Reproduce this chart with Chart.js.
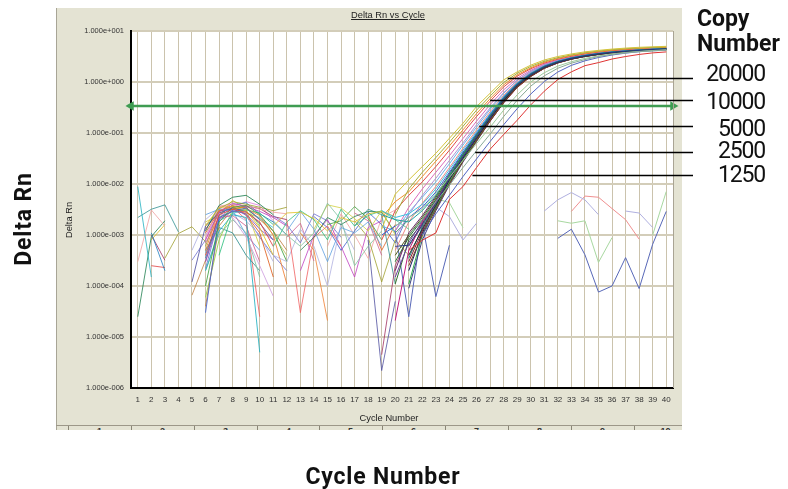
<!DOCTYPE html>
<html><head><meta charset="utf-8">
<script src="https://cdn.jsdelivr.net/npm/chart.js@4.4.1/dist/chart.umd.min.js"></script>
<style>
html,body{margin:0;padding:0;background:#fff;}
#wrap{position:relative;width:788px;height:489px;overflow:hidden;font-family:"Liberation Sans",Arial,sans-serif;}
#panel{position:absolute;left:56px;top:8px;width:626px;height:422px;background:#e4e3d3;border-left:1px solid #a8a596;box-sizing:border-box;}
#tbl{position:absolute;left:56px;top:425px;width:626px;height:5px;overflow:hidden;border-top:1px solid #9c9788;box-sizing:border-box;}
#tbl .sep{position:absolute;top:0;width:1px;height:6px;background:#8a8676;}
#tbl .num{position:absolute;top:1px;width:63px;text-align:center;font:bold 9px "Liberation Sans",Arial,sans-serif;color:#333;line-height:1;}
canvas{position:absolute;left:0;top:0;}
.t{position:absolute;white-space:nowrap;line-height:1;color:#222;}
.big{font-family:Roboto,"Noto Sans",sans-serif;color:#111;}
</style></head><body>
<div id="wrap">
  <div id="panel"></div>
  <div id="tbl"></div>
  <canvas id="c" width="788" height="489"></canvas>
  <div class="t" style="left:288px;top:11px;width:200px;text-align:center;font-size:9.3px;text-decoration:underline;">Delta Rn vs Cycle</div>
  <div class="t" style="left:289px;top:414px;width:200px;text-align:center;font-size:9.3px;">Cycle Number</div>
  <div class="t" style="left:70px;top:220px;font-size:9.3px;transform:translate(-50%,-50%) rotate(-90deg);">Delta Rn</div>
  <div class="t big" style="left:23px;top:219px;font-size:23px;font-weight:700;letter-spacing:0.8px;transform:translate(-50%,-50%) rotate(-90deg);">Delta Rn</div>
  <div class="t big" style="left:233px;top:465px;width:300px;text-align:center;font-size:23px;font-weight:700;letter-spacing:0.8px;">Cycle Number</div>
  <div class="t big" style="left:697px;top:7px;font-size:23px;font-weight:700;">Copy</div>
  <div class="t big" style="left:697px;top:32px;font-size:23px;font-weight:700;">Number</div>
  <div id="copyLabels"></div>
</div>
<script>
// ---------- data ----------
const cycles = [1,2,3,4,5,6,7,8,9,10,11,12,13,14,15,16,17,18,19,20,21,22,23,24,25,26,27,28,29,30,31,32,33,34,35,36,37,38,39,40];
const yTickValues = [1e-6,1e-5,1e-4,1e-3,1e-2,1e-1,1,10];
const yTickLabels = ['1.000e-006','1.000e-005','1.000e-004','1.000e-003','1.000e-002','1.000e-001','1.000e+000','1.000e+001'];
const threshold = 0.34;

// amplifying wells, cycles 19..40
const ampStart = 19;
const ampEarly = [
  [1.3e-3,6.3e-3,1.2e-2,2.2e-2,4.0e-2,7.9e-2,0.155,0.33,0.6,1.1,1.58,2.14,2.7,3.16,3.55,3.9,4.17,4.42,4.62,4.79,4.9,5.0],
  [null,2.5e-3,8e-3,1.7e-2,3.3e-2,6.6e-2,0.135,0.28,0.53,0.98,1.48,2.02,2.55,3.0,3.4,3.75,4.05,4.3,4.5,4.65,4.78,4.88],
  [2.2e-3,4.5e-3,7e-3,1.4e-2,2.8e-2,5.6e-2,0.115,0.24,0.47,0.88,1.38,1.9,2.45,2.9,3.3,3.65,3.95,4.2,4.4,4.55,4.68,4.78],
  [8e-4,3e-3,6e-3,1.1e-2,2.2e-2,4.6e-2,0.1,0.21,0.42,0.8,1.3,1.82,2.35,2.8,3.2,3.55,3.85,4.1,4.3,4.45,4.58,4.68],
  [null,1.2e-3,3.5e-3,8e-3,1.7e-2,3.6e-2,7.8e-2,0.17,0.36,0.7,1.18,1.7,2.25,2.7,3.1,3.45,3.75,4.0,4.2,4.35,4.48,4.58],
  [null,9e-4,2.5e-3,6e-3,1.3e-2,2.9e-2,6.4e-2,0.145,0.31,0.62,1.08,1.6,2.15,2.62,3.02,3.38,3.68,3.92,4.12,4.28,4.42,4.52],
  [1.5e-3,1.2e-3,2.8e-3,5.5e-3,1.1e-2,2.5e-2,5.8e-2,0.13,0.29,0.6,1.08,1.62,2.2,2.68,3.08,3.42,3.72,3.96,4.15,4.32,4.46,4.6],
  [null,5e-4,1.8e-3,4.2e-3,9e-3,2.1e-2,5e-2,0.115,0.26,0.55,1.0,1.55,2.12,2.6,3.02,3.37,3.67,3.91,4.1,4.28,4.42,4.55]
];
const ampMain = [
  [null,6e-4,6.3e-4,1.6e-3,4.2e-3,1.3e-2,3.4e-2,8.3e-2,0.2,0.45,0.87,1.38,1.95,2.45,2.88,3.24,3.55,3.8,3.98,4.17,4.31,4.47],
  [null,null,4e-4,1.3e-3,3.8e-3,1.2e-2,3.2e-2,7.8e-2,0.19,0.43,0.84,1.35,1.92,2.42,2.85,3.2,3.5,3.75,3.95,4.12,4.27,4.4],
  [null,3e-4,9e-4,2e-3,5e-3,1.4e-2,3.7e-2,9e-2,0.21,0.47,0.9,1.42,2.0,2.5,2.92,3.28,3.58,3.83,4.02,4.2,4.35,4.5],
  [null,null,2.5e-4,1e-3,3.2e-3,1e-2,2.8e-2,7e-2,0.175,0.4,0.8,1.3,1.87,2.38,2.82,3.18,3.48,3.73,3.93,4.1,4.25,4.38],
  [1e-3,1.5e-3,2.2e-3,3.5e-3,7e-3,1.7e-2,4.2e-2,9.8e-2,0.23,0.5,0.94,1.47,2.05,2.55,2.97,3.32,3.62,3.87,4.06,4.24,4.39,4.53],
  [2.5e-3,2e-3,1.8e-3,3e-3,6e-3,1.5e-2,3.9e-2,9.3e-2,0.22,0.48,0.91,1.44,2.02,2.52,2.95,3.3,3.6,3.85,4.05,4.22,4.37,4.5],
  [null,2.1e-5,5e-4,1.8e-3,4.5e-3,1.3e-2,3.3e-2,8e-2,0.19,0.44,0.85,1.36,1.93,2.43,2.86,3.22,3.52,3.77,3.96,4.14,4.29,4.43],
  [null,null,1.1e-4,1e-3,3.5e-3,1.1e-2,3e-2,7.5e-2,0.18,0.42,0.82,1.33,1.9,2.4,2.83,3.19,3.49,3.74,3.94,4.11,4.26,4.4],
  [3e-3,2.2e-3,2.6e-3,4e-3,8e-3,1.9e-2,4.6e-2,0.105,0.24,0.52,0.96,1.5,2.08,2.58,3.0,3.35,3.65,3.9,4.09,4.27,4.42,4.56],
  [null,1.5e-4,7e-4,1.9e-3,4.8e-3,1.35e-2,3.5e-2,8.5e-2,0.2,0.46,0.88,1.4,1.97,2.47,2.9,3.26,3.56,3.81,4.0,4.18,4.33,4.48],
  [null,null,3e-4,1.2e-3,3.6e-3,1.1e-2,2.9e-2,7.2e-2,0.17,0.39,0.78,1.28,1.85,2.36,2.8,3.16,3.46,3.71,3.91,4.08,4.23,4.36],
  [null,4e-4,1e-3,2.2e-3,5.4e-3,1.5e-2,3.8e-2,9.1e-2,0.215,0.475,0.9,1.43,2.0,2.5,2.93,3.29,3.59,3.84,4.03,4.21,4.36,4.51],
  [null,null,6e-4,1.5e-3,4e-3,1.25e-2,3.3e-2,8e-2,0.19,0.44,0.85,1.36,1.93,2.43,2.86,3.22,3.52,3.77,3.96,4.14,4.29,4.43],
  [null,null,2e-4,1.1e-3,3.4e-3,1.05e-2,2.9e-2,7.3e-2,0.18,0.41,0.81,1.31,1.88,2.39,2.83,3.19,3.49,3.74,3.94,4.11,4.26,4.39],
  [null,1.1e-4,8e-4,1.7e-3,4.4e-3,1.32e-2,3.45e-2,8.4e-2,0.2,0.455,0.87,1.39,1.96,2.46,2.89,3.25,3.55,3.8,3.99,4.17,4.32,4.46],
  [null,null,9e-5,8e-4,3e-3,9.5e-3,2.7e-2,6.8e-2,0.17,0.39,0.79,1.29,1.86,2.37,2.81,3.17,3.47,3.72,3.92,4.09,4.24,4.37],
  [null,2e-4,1.1e-3,2.4e-3,5.8e-3,1.6e-2,4e-2,9.5e-2,0.22,0.49,0.92,1.45,2.03,2.53,2.95,3.3,3.6,3.85,4.04,4.22,4.37,4.51],
  [null,null,3.5e-4,1.4e-3,3.9e-3,1.22e-2,3.25e-2,7.9e-2,0.19,0.435,0.85,1.36,1.93,2.43,2.86,3.22,3.52,3.77,3.96,4.14,4.29,4.43]
];
const ampLate = [
  [null,null,1e-3,2e-3,4.5e-3,9.5e-3,2.1e-2,4.5e-2,9.5e-2,0.21,0.44,0.83,1.32,1.86,2.34,2.75,3.16,3.47,3.72,3.94,4.07,4.22],
  [null,1.5e-3,2.2e-3,3.2e-3,6.5e-3,1.35e-2,2.9e-2,6.2e-2,0.13,0.28,0.56,1.0,1.52,2.05,2.5,2.9,3.25,3.55,3.78,3.98,4.14,4.28],
  [null,null,null,1e-3,2.6e-3,6e-3,1.4e-2,3.1e-2,6.8e-2,0.145,0.3,0.58,1.02,1.57,2.12,2.6,3.02,3.38,3.68,3.92,4.1,4.2],
  [null,null,5e-4,7.9e-4,1.1e-3,5e-3,8.9e-3,2.1e-2,4.8e-2,9.3e-2,0.178,0.355,0.66,1.12,1.58,2.09,2.4,2.82,3.16,3.47,3.72,3.89]
];

// baseline noise, cycles 5..12
const humpStart = 5;
const humpWells = [
  [null,4e-4,2.5e-3,3.2e-3,2.8e-3,1.8e-3,6e-4,null],
  [null,1e-4,1.8e-3,3.5e-3,3.8e-3,2.5e-3,1.2e-3,3e-4],
  [null,3e-5,2.2e-3,2.9e-3,3.4e-3,2e-3,null,null],
  [null,1.5e-3,3.5e-3,3.6e-3,3e-3,1.4e-3,4e-4,null],
  [null,8e-4,2.8e-3,4.2e-3,3.6e-3,2.9e-3,2.2e-3,1.5e-3],
  [null,2e-4,1.2e-3,2.5e-3,2.2e-3,5e-6,null,null],
  [null,5e-4,3e-3,3.8e-3,3.3e-3,2.4e-3,1e-3,1.1e-4],
  [null,3e-4,2e-3,3e-3,2.6e-3,1.3e-3,8e-4,null],
  [null,1.2e-3,3.8e-3,5.5e-3,6e-3,4e-3,2.5e-3,null],
  [null,7e-4,2.2e-3,2.4e-3,1.5e-3,3e-4,null,null],
  [null,2.5e-3,3.2e-3,3e-3,1e-3,5e-4,null,null],
  [null,6e-4,3.3e-3,4.5e-3,4e-3,3.5e-3,3e-3,3.5e-3],
  [null,1e-3,2.6e-3,2.2e-3,9e-4,2.5e-4,6.3e-5,null],
  [null,null,4e-4,2.8e-3,3.1e-3,2.7e-3,1.6e-3,null],
  [null,4e-5,1.5e-3,3.3e-3,3.5e-3,2e-3,1.2e-3,5e-4],
  [1.2e-4,1.5e-3,2.7e-3,3.4e-3,2.9e-3,1.7e-3,8e-4,null],
  [null,9e-4,3.7e-3,4e-3,3.8e-3,3.2e-3,2.8e-3,2.6e-3],
  [null,2e-4,1e-3,2e-3,1.1e-3,1.5e-4,null,null],
  [null,1.1e-3,2.9e-3,3.7e-3,2.5e-3,1.1e-3,1.5e-4,null],
  [null,3.5e-4,2.4e-3,3.9e-3,4.3e-3,2.6e-3,1.8e-3,1e-3],
  [5e-4,2e-3,3.4e-3,2.7e-3,1.9e-3,1e-3,3e-4,null],
  [null,6e-5,8e-4,3.1e-3,3.6e-3,1.5e-3,null,null],
  [null,1.3e-3,3e-3,3.2e-3,3.7e-3,3.3e-3,2.3e-3,2e-3],
  [null,4.5e-4,1.9e-3,2.6e-3,3.3e-3,2.1e-3,1.4e-3,null],
  [null,1.8e-3,2.5e-3,4.8e-3,3.2e-3,6e-4,null,null],
  [null,2.2e-4,2.1e-3,3.6e-3,2.4e-3,9e-4,4e-4,2e-4],
  [null,8e-4,3.6e-3,3.5e-3,4.5e-3,3.8e-3,1.9e-3,null],
  [null,5e-4,1.4e-3,1.1e-3,4e-4,2e-4,null,null],
  [null,1.6e-3,2.3e-3,2.9e-3,2.7e-3,2.2e-3,1e-3,4e-4],
  [null,3e-4,2.6e-3,3.5e-3,2e-3,2.5e-5,null,null]
];

// noise, cycles 1..6
const earlyStart = 1;
const earlyWells = [
  [8.9e-3,1.5e-4,null,null,null,null],
  [3e-4,3.1e-3,1.5e-3,null,null,null],
  [2.2e-3,3.2e-3,3.9e-3,1.15e-3,null,null],
  [2.5e-5,9.3e-4,1.9e-3,null,null,null],
  [null,1.1e-3,2e-4,null,null,null],
  [null,2.5e-4,2.3e-4,null,null,null],
  [null,null,3.5e-4,1.07e-3,1.45e-3,7.4e-4],
  [null,1e-3,3.2e-4,null,null,null],
  [null,8e-4,1.6e-3,null,null,null],
  [null,null,null,null,6.6e-5,3.2e-4],
  [null,null,null,null,3.2e-4,8e-4]
];

// noise, cycles 11..21
const midStart = 11;
const midWells = [
  [1.5e-3,2.7e-3,2.8e-3,2.1e-3,1.2e-3,2.2e-3,1.8e-3,2.6e-3,2.9e-3,2.3e-3,null],
  [null,1.2e-3,2.9e-3,1.3e-3,3e-4,1.4e-3,1.1e-3,1.8e-3,6e-4,null,null],
  [1.9e-3,1e-3,6e-4,1.1e-3,4.2e-3,2e-3,2.5e-4,6e-4,1.2e-3,null,null],
  [null,null,null,1.3e-3,3.9e-3,3.4e-3,2.1e-3,1.2e-3,3e-3,1e-3,null],
  [null,null,null,null,1.6e-3,1.9e-3,3.6e-3,2.1e-3,8e-4,null,null],
  [null,null,5e-4,9e-4,2.2e-3,1.6e-3,2.3e-3,2.9e-3,2.8e-3,1.1e-3,2e-3],
  [null,null,null,null,null,null,null,8e-4,2.2e-6,5e-5,null],
  [null,null,null,null,null,null,null,null,4.5e-6,2.5e-4,1e-3],
  [null,2e-3,3e-5,9e-4,1.5e-3,6e-4,null,null,null,null,null],
  [null,null,1.1e-3,5e-4,2.1e-5,null,null,null,null,null,null],
  [6e-4,1.8e-3,3e-3,2e-3,8e-4,3.2e-3,1.5e-3,2.4e-3,3e-3,2e-3,1.3e-3],
  [4e-4,3e-4,1.3e-3,6e-4,1e-4,1.7e-3,5e-4,null,null,null,null],
  [null,null,null,null,null,null,1.5e-3,3.2e-3,2.5e-3,1.1e-4,null],
  [null,null,2e-4,1e-3,2e-3,6e-4,1.5e-4,1.4e-3,1.9e-3,null,null],
  [null,null,null,null,null,null,1.9e-3,9e-4,1.2e-4,8e-4,4e-4],
  [null,null,null,null,null,null,null,2.5e-3,5e-4,1.6e-3,null],
  [2.4e-3,1.6e-3,7e-4,2.6e-3,1.9e-3,9e-4,null,null,null,null,null],
  [null,null,null,2.3e-3,1.4e-3,5e-4,1.2e-3,2.8e-3,1.6e-3,7e-4,2.6e-3],
  [null,9e-4,1.7e-3,3.1e-4,null,null,2.7e-3,1.9e-3,4e-4,null,null],
  [1.1e-3,null,null,null,6e-4,2.6e-3,1e-3,3.5e-4,2.2e-3,3.1e-3,null]
];

// non-amplifying wells, cycles 20..40
const ntcStart = 20;
const ntcWells = [
  [1.2e-3,2.5e-5,1.7e-3,6.2e-5,6.3e-4,null,null,null,null,null,null,null,8.6e-4,1.3e-3,4.1e-4,7.6e-5,1e-4,3.6e-4,8.9e-5,6.6e-4,2.9e-3],
  [null,null,4e-3,3.5e-3,2.3e-3,8e-4,1.7e-3,null,null,null,null,2.95e-3,4.9e-3,6.8e-3,4.9e-3,2.5e-3,null,2.95e-3,2.7e-3,1.4e-3,null],
  [null,null,null,null,null,null,null,null,null,null,null,null,null,2.9e-3,5.8e-3,5.5e-3,3.3e-3,2e-3,8.3e-4,null,null],
  [null,null,null,5.2e-3,4.3e-3,1.4e-3,null,null,null,null,null,null,1.9e-3,1.7e-3,1.9e-3,2.9e-4,8.9e-4,null,null,1e-3,7.1e-3]
];

// copy-number annotations
const copyNumbers = ['20000','10000','5000','2500','1250'];
const leaderCycles = [28.3, 27.0, 26.2, 25.9, 25.7];
const leaderValues = [1.2, 0.44, 0.137, 0.043, 0.015];

// ---------- styles ----------
const colEarly = ['#d4c43a','#a6ae3c','#f0902c','#e24a4a','#dc6cbc','#ae92d6','#6cb4e8','#ee8a8a'];
const colMain = ['#26388a','#2a2a2a','#2a7a3a','#7a4424','#3262d0','#1ea0a0','#c01e7e','#2eae4e','#3ec0e0','#6e3ea0','#8e1e2e','#4e5e1e','#6e6e6e','#1a1a60','#2f6f2f','#404080','#6a2a6a','#208080'];
const colLate = ['#88aa98','#9ccc9c','#5466c4','#e03434'];
const colNoise = ['#e04040','#40a040','#4060d0','#e0c020','#c040c0','#20b0c0','#f08030','#8050c0','#208050','#d06090','#60a0e0','#a0a030','#d0a0e0','#30c080','#c08040','#5050a0','#f0a0a0','#80c0a0','#e06020','#2080c0','#b0b0e0','#90d040','#a03060','#40c0e0','#d0d040','#7070d0','#e080e0','#309090','#c0c060','#f06060'];
const colNtc = ['#5868b8','#b0b0e0','#f09090','#a8d8a0'];

function pts(start, vals){ return vals.map((v,i)=>({x:start+i, y:v})); }
function line(start, vals, color, alpha){
  return {data:pts(start, vals), borderColor:color + (alpha || ''), borderWidth:1, pointRadius:0, spanGaps:false, tension:0, fill:false};
}

const datasets = [];
datasets.push({data:[{x:0.5,y:threshold},{x:40.5,y:threshold}], borderColor:'#3f9c52', backgroundColor:'#3f9c52',
  borderWidth:2.5, pointRadius:3, pointStyle:'triangle', rotation:[-90,90], clip:false, tension:0});
ampLate.forEach((v,i)=>datasets.push(line(ampStart, v, colLate[i])));
ampMain.forEach((v,i)=>datasets.push(line(ampStart, v, colMain[i])));
ampEarly.forEach((v,i)=>datasets.push(line(ampStart, v, colEarly[i])));
ntcWells.forEach((v,i)=>datasets.push(line(ntcStart, v, colNtc[i])));
midWells.forEach((v,i)=>datasets.push(line(midStart, v, colNoise[(i*7+3)%colNoise.length], 'cc')));
humpWells.forEach((v,i)=>datasets.push(line(humpStart, v, colNoise[i%colNoise.length], 'd8')));
earlyWells.forEach((v,i)=>datasets.push(line(earlyStart, v, colNoise[(i*11+5)%colNoise.length], 'cc')));

// bottom table strip
const tbl = document.getElementById('tbl');
[12,75,138,201,263,326,389,452,515,578].forEach((x,i)=>{
  const s=document.createElement('div'); s.className='sep'; s.style.left=x+'px'; tbl.appendChild(s);
  const n=document.createElement('div'); n.className='num'; n.style.left=x+'px'; n.textContent=String(i+1); tbl.appendChild(n);
});
// copy number labels
const capTops = [62,90,117,139,163];
const cl = document.getElementById('copyLabels');
copyNumbers.forEach((t,i)=>{
  const d=document.createElement('div'); d.className='t big';
  d.style.cssText='right:23px;top:'+capTops[i]+'px;font-size:23px;letter-spacing:-1.2px;';
  d.textContent=t; cl.appendChild(d);
});

const frame = {
  id:'frame',
  beforeDraw(chart){
    const {ctx, chartArea:a} = chart;
    ctx.save(); ctx.fillStyle='#ffffff'; ctx.fillRect(a.left,a.top,a.right-a.left,a.bottom-a.top); ctx.restore();
  },
  afterDraw(chart){
    const {ctx, chartArea:a, scales} = chart;
    ctx.save();
    ctx.strokeStyle='#a9a494'; ctx.lineWidth=1;
    ctx.beginPath(); ctx.moveTo(a.right+0.5,a.top); ctx.lineTo(a.right+0.5,a.bottom); ctx.stroke();
    ctx.strokeStyle='#000'; ctx.lineWidth=1.3;
    leaderCycles.forEach((c,i)=>{
      const x=scales.x.getPixelForValue(c);
      const y=Math.round(scales.y.getPixelForValue(leaderValues[i]))+0.5;
      ctx.beginPath(); ctx.moveTo(x,y); ctx.lineTo(693,y); ctx.stroke();
    });
    ctx.restore();
  }
};

Chart.defaults.font.family = '"Liberation Sans", Arial, sans-serif';
new Chart(document.getElementById('c'), {
  type:'line',
  data:{datasets},
  options:{
    responsive:false, animation:false, events:[],
    layout:{padding:{left:61,right:115,top:31,bottom:64}},
    plugins:{legend:{display:false}, tooltip:{enabled:false}},
    scales:{
      x:{type:'linear', min:0.5, max:40.5,
        afterBuildTicks:s=>{ s.ticks = cycles.map(v=>({value:v})); },
        afterFit:s=>{ s.height = 37; },
        ticks:{autoSkip:false, maxRotation:0, padding:7, font:{size:8}, color:'#333',
          callback:(v,i)=>String(cycles[i])},
        grid:{color:'#cbc3ad', lineWidth:1, drawTicks:false},
        border:{display:true, color:'#000', width:2}
      },
      y:{type:'logarithmic', min:1e-6, max:10,
        afterBuildTicks:s=>{ s.ticks = yTickValues.map(v=>({value:v})); },
        afterFit:s=>{ s.width = 70; },
        ticks:{padding:7, font:{size:7.5}, color:'#333', callback:(v,i)=>yTickLabels[i]},
        grid:{color:'#d3cdb9', lineWidth:2, drawTicks:false},
        border:{display:true, color:'#000', width:2}
      }
    }
  },
  plugins:[frame]
});
</script>
</body></html>
